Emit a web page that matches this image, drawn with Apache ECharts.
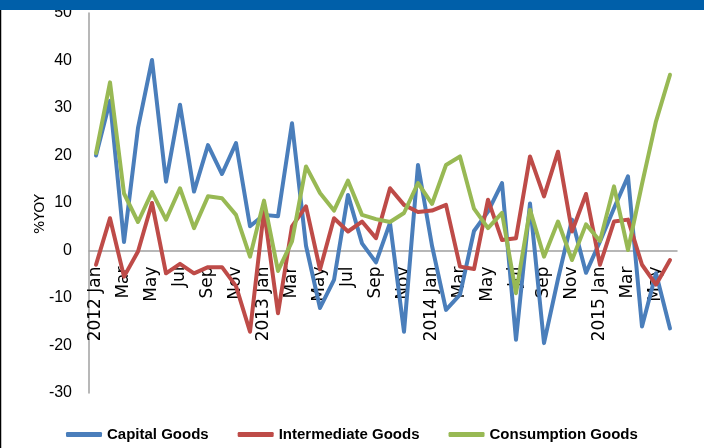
<!DOCTYPE html>
<html><head><meta charset="utf-8">
<script src="https://cdn.jsdelivr.net/npm/echarts@6/dist/echarts.min.js"></script>
<style>html,body{margin:0;padding:0;background:#fff}#c{width:704px;height:448px}</style>
</head><body><div id="c"></div>
<script>
const categories = [
 "2012 Jan","Feb","Mar","Apr","May","Jun","Jul","Aug","Sep","Oct","Nov","Dec",
 "2013 Jan","Feb","Mar","Apr","May","Jun","Jul","Aug","Sep","Oct","Nov","Dec",
 "2014 Jan","Feb","Mar","Apr","May","Jun","Jul","Aug","Sep","Oct","Nov","Dec",
 "2015 Jan","Feb","Mar","Apr","May","Jun"];
const capitalGoods = [20,31.5,1.8,25.8,40.1,14.5,30.7,12.4,22.2,16.1,22.6,5.1,
 7.5,7.2,26.8,1,-12.1,-6.2,11.7,1.5,-2.5,5.8,-17.1,18.0,
 1,-12.5,-9.3,4.1,8.2,14.2,-18.8,9.9,-19.5,-6,6.5,-4.7,
 1.9,8.9,15.6,-16.0,-4.8,-16.4];
const intermediateGoods = [-3.0,6.8,-5.5,-0.2,10.0,-4.8,-2.8,-4.8,-3.5,-3.5,-7.5,-17.1,
 8.5,-13.2,5.1,9.3,-4,6.8,4.0,6.1,2.6,13.1,9.6,8.1,
 8.4,9.6,-3.4,-3.9,10.7,2.2,2.6,19.8,11.4,20.8,4.0,11.9,
 -3.0,6.1,6.5,-3.0,-7.2,-2.0];
const consumptionGoods = [20.5,35.4,12,6,12.3,6.5,13.1,4.7,11.4,11,7.5,-1.3,
 10.5,-4.3,1.9,17.7,12.1,8.4,14.7,7.5,6.6,6.0,7.9,14.2,
 9.8,18.0,19.8,8.8,4.7,7.9,-9.0,8.6,-1.3,6.1,-2.0,5.5,
 2.0,13.5,0.1,14,27.2,37.0];
const seriesNames = ["Capital Goods","Intermediate Goods","Consumption Goods"];
const yTicks = {min:-30,max:50,step:10};

const chart = echarts.init(document.getElementById('c'));
const colors = ['#4A7EBB','#BE4B48','#98B954'];
const data = [capitalGoods,intermediateGoods,consumptionGoods];
const gridTop = 13, gridBottom = 55, H = 448;
const gridH = H - gridTop - gridBottom;
const zeroOffset = -(0 - yTicks.min) / (yTicks.max - yTicks.min) * gridH;
chart.setOption({
  animation:false,
  color:colors,
  graphic:[
    {type:'rect',shape:{x:0,y:0,width:704,height:10},style:{fill:'#005FA9'},z:10},
    {type:'line',shape:{x1:0.5,y1:10,x2:0.5,y2:448},style:{stroke:'#000',lineWidth:1.5}}
  ],
  grid:{left:89,right:27,top:gridTop,bottom:gridBottom,containLabel:false,outerBoundsMode:'none'},
  legend:{
    bottom:1,left:61,itemWidth:36,itemHeight:5,itemGap:29,icon:'roundRect',
    textStyle:{fontFamily:'Liberation Sans',fontWeight:'bold',fontSize:15,color:'#000'},
    data:seriesNames
  },
  xAxis:{
    type:'category',data:categories,boundaryGap:true,offset:zeroOffset,
    axisLine:{onZero:false,lineStyle:{color:'#A0A0A0',width:1.5}},
    axisTick:{show:false},
    axisLabel:{interval:1,rotate:90,margin:16,color:'#000',fontFamily:'DejaVu Sans',fontSize:17}
  },
  yAxis:{
    type:'value',min:yTicks.min,max:yTicks.max,interval:yTicks.step,
    name:'%YOY',nameLocation:'middle',nameGap:42,nameMoveOverlap:false,
    nameTextStyle:{fontFamily:'DejaVu Sans',fontSize:14,color:'#000',padding:[0,22,0,0]},
    axisLine:{show:true,lineStyle:{color:'#A0A0A0',width:1.5}},
    axisTick:{show:false},
    splitLine:{show:false},
    axisLabel:{margin:17,color:'#000',fontFamily:'Liberation Sans',fontSize:16}
  },
  series:seriesNames.map((n,i)=>({
    name:n,type:'line',data:data[i],symbol:'none',
    lineStyle:{width:4,color:colors[i],join:'round',cap:'round'}
  }))
});
</script></body></html>
